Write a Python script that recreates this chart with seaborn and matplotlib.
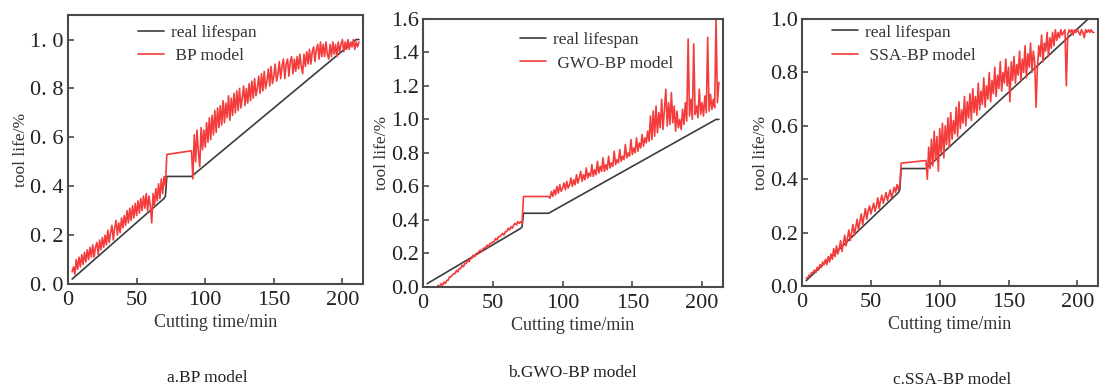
import numpy as np
import pandas as pd
import matplotlib
matplotlib.use("Agg")
import matplotlib.pyplot as plt
from matplotlib.ticker import FuncFormatter, MultipleLocator
import seaborn as sns

sns.set_theme(style="ticks")
plt.rcParams["font.family"] = ["Liberation Serif", "DejaVu Serif"]

# real lifespan (same measured curve, c ends a bit steeper)
real_x = [3, 70, 71, 72, 90, 210, 212]
real_y = [0.02, 0.35, 0.36, 0.44, 0.44, 1.00, 1.00]
real_x_c = [3, 70, 71, 72, 90, 212]
real_y_c = [0.02, 0.35, 0.36, 0.44, 0.44, 1.02]

# BP model prediction
bp_x = list(range(3, 72)) + [72, 90] + list(range(91, 213))
bp_y = [0.05, 0.07, 0.04, 0.10, 0.06, 0.11, 0.07, 0.12, 0.08, 0.13, 0.09, 0.14, 0.10, 0.15,
        0.11, 0.16, 0.11, 0.15, 0.17, 0.12, 0.18, 0.14, 0.19, 0.15, 0.20, 0.16, 0.22, 0.17,
        0.21, 0.24, 0.18, 0.23, 0.26, 0.20, 0.25, 0.21, 0.27, 0.23, 0.28, 0.24, 0.30, 0.25,
        0.31, 0.26, 0.32, 0.27, 0.33, 0.28, 0.34, 0.29, 0.35, 0.30, 0.36, 0.31, 0.37, 0.30,
        0.36, 0.32, 0.25, 0.37, 0.32, 0.39, 0.34, 0.41, 0.35, 0.43, 0.37, 0.44, 0.40,
        0.53, 0.545,
        0.43, 0.61, 0.50, 0.63, 0.54, 0.48, 0.64, 0.55, 0.63, 0.56, 0.66, 0.58, 0.68, 0.59,
        0.69, 0.61, 0.71, 0.62, 0.72, 0.64, 0.73, 0.65, 0.75, 0.66, 0.74, 0.68, 0.77, 0.67,
        0.76, 0.69, 0.78, 0.70, 0.79, 0.71, 0.80, 0.72, 0.76, 0.81, 0.73, 0.80, 0.74, 0.82,
        0.75, 0.83, 0.76, 0.84, 0.77, 0.80, 0.85, 0.78, 0.86, 0.79, 0.87, 0.80, 0.83, 0.88,
        0.81, 0.89, 0.82, 0.85, 0.90, 0.83, 0.86, 0.91, 0.84, 0.89, 0.92, 0.84, 0.90, 0.92,
        0.85, 0.91, 0.93, 0.86, 0.92, 0.87, 0.93, 0.88, 0.94, 0.89, 0.86, 0.94, 0.89, 0.95,
        0.90, 0.96, 0.90, 0.95, 0.97, 0.91, 0.96, 0.98, 0.92, 0.99, 0.93, 0.98, 0.93, 0.99,
        0.94, 0.92, 0.98, 0.93, 0.99, 0.94, 0.98, 0.93, 0.99, 0.95, 0.98, 1.00, 0.95, 0.99,
        0.96, 1.00, 0.96, 0.99, 0.97, 1.00, 0.96, 0.99, 0.97, 0.99]

# GWO-BP model prediction
gwo_x = list(range(10, 72)) + [72, 90] + list(range(91, 213))
gwo_y = [0.00, 0.01, 0.00, 0.02, 0.01, 0.03, 0.02, 0.04, 0.04, 0.06, 0.06, 0.07, 0.08, 0.08,
         0.10, 0.09, 0.11, 0.11, 0.13, 0.12, 0.14, 0.14, 0.16, 0.15, 0.17, 0.17, 0.19, 0.18,
         0.20, 0.20, 0.21, 0.22, 0.21, 0.23, 0.23, 0.24, 0.25, 0.24, 0.26, 0.26, 0.27, 0.27,
         0.29, 0.28, 0.30, 0.30, 0.31, 0.32, 0.31, 0.33, 0.33, 0.35, 0.34, 0.36, 0.35, 0.37,
         0.38, 0.37, 0.39, 0.38, 0.39, 0.38,
         0.54, 0.54,
         0.53, 0.57, 0.54, 0.58, 0.55, 0.60, 0.56, 0.61, 0.57, 0.59, 0.62, 0.58, 0.63, 0.59,
         0.61, 0.65, 0.60, 0.64, 0.61, 0.67, 0.62, 0.65, 0.69, 0.63, 0.67, 0.64, 0.71, 0.65,
         0.68, 0.66, 0.73, 0.66, 0.70, 0.67, 0.75, 0.68, 0.72, 0.69, 0.77, 0.69, 0.73, 0.70,
         0.78, 0.71, 0.74, 0.72, 0.81, 0.73, 0.76, 0.74, 0.82, 0.75, 0.78, 0.76, 0.85, 0.77,
         0.80, 0.78, 0.88, 0.79, 0.83, 0.80, 0.89, 0.81, 0.86, 0.83, 0.91, 0.84, 0.89, 0.86,
         0.93, 0.87, 1.02, 0.88, 1.05, 0.90, 1.08, 0.92, 1.04, 0.95, 1.12, 0.94, 1.06, 1.18,
         0.96, 1.10, 0.97, 1.16, 0.98, 1.08, 0.93, 1.05, 0.95, 1.00, 0.94, 1.06, 0.97, 1.10,
         0.99, 1.48, 1.02, 1.12, 1.00, 1.45, 1.03, 1.08, 1.01, 1.18, 1.03, 1.10, 1.02, 1.14,
         1.04, 1.49, 1.05, 1.15, 1.06, 1.12, 1.07, 1.60, 1.10, 1.22]

# SSA-BP model prediction
ssa_x = list(range(3, 72)) + [72, 90] + list(range(91, 213))
ssa_y = [0.03, 0.03, 0.04, 0.04, 0.05, 0.05, 0.06, 0.05, 0.07, 0.06, 0.08, 0.07, 0.09, 0.08,
         0.10, 0.08, 0.11, 0.09, 0.12, 0.10, 0.14, 0.11, 0.15, 0.12, 0.14, 0.17, 0.13, 0.16,
         0.19, 0.15, 0.18, 0.21, 0.17, 0.20, 0.23, 0.19, 0.22, 0.25, 0.21, 0.24, 0.27, 0.23,
         0.26, 0.29, 0.25, 0.28, 0.30, 0.27, 0.29, 0.31, 0.28, 0.30, 0.33, 0.29, 0.32, 0.34,
         0.31, 0.33, 0.35, 0.32, 0.34, 0.36, 0.33, 0.35, 0.37, 0.35, 0.38, 0.36, 0.38,
         0.46, 0.47,
         0.40, 0.52, 0.44, 0.55, 0.45, 0.58, 0.47, 0.56, 0.43, 0.59, 0.50, 0.61, 0.48, 0.60,
         0.53, 0.63, 0.52, 0.65, 0.55, 0.62, 0.57, 0.67, 0.56, 0.69, 0.59, 0.66, 0.61, 0.71,
         0.60, 0.69, 0.63, 0.72, 0.62, 0.74, 0.65, 0.71, 0.64, 0.76, 0.66, 0.73, 0.68, 0.78,
         0.67, 0.75, 0.70, 0.80, 0.69, 0.77, 0.72, 0.82, 0.71, 0.79, 0.74, 0.84, 0.73, 0.80,
         0.76, 0.85, 0.75, 0.82, 0.69, 0.84, 0.77, 0.86, 0.76, 0.83, 0.79, 0.88, 0.77, 0.85,
         0.80, 0.90, 0.78, 0.87, 0.82, 0.91, 0.80, 0.88, 0.84, 0.67, 0.82, 0.90, 0.86, 0.94,
         0.84, 0.91, 0.88, 0.95, 0.86, 0.93, 0.89, 0.95, 0.90, 0.96, 0.92, 0.95, 0.93, 0.96,
         0.94, 0.95, 0.96, 0.75, 0.94, 0.96, 0.95, 0.96, 0.94, 0.96, 0.95, 0.96, 0.95, 0.94,
         0.96, 0.95, 0.93, 0.96, 0.95, 0.96, 0.95, 0.96, 0.95, 0.95]

panels = [
    dict(rx=real_x, ry=real_y, mx=bp_x, my=bp_y, label=" BP model", ylim=(0, 1.1),
         spaced=True, title="a.BP model",
         rect=[0.0619, 0.2755, 0.2684, 0.686], leg=(0.237, 0.965), ty=378, tx=207),
    dict(rx=real_x, ry=real_y, mx=gwo_x, my=gwo_y, label=" GWO-BP model", ylim=(0, 1.6),
         spaced=False, title="b.GWO-BP model",
         rect=[0.3849, 0.2679, 0.273, 0.684], leg=(0.323, 0.95), ty=373, tx=572),
    dict(rx=real_x_c, ry=real_y_c, mx=ssa_x, my=ssa_y, label=" SSA-BP model", ylim=(0, 1.0),
         spaced=False, title="c.SSA-BP model",
         rect=[0.7298, 0.2704, 0.2693, 0.681], leg=(0.101, 0.98), ty=380, tx=952),
]

W, H = 1099, 392
fig = plt.figure(figsize=(W / 100, H / 100), dpi=100)
spine_col = "#4a4a4a"

for p in panels:
    ax = fig.add_axes(p["rect"])
    sns.lineplot(x=p["rx"], y=p["ry"], ax=ax, color="#3c3c3c", linewidth=1.2,
                 label="real lifespan", sort=False, estimator=None)
    sns.lineplot(x=p["mx"], y=p["my"], ax=ax, color="#f53c3c", linewidth=1.2,
                 label=p["label"], sort=False, estimator=None)
    ax.set_xlim(0, 215)
    ax.set_ylim(*p["ylim"])
    ax.xaxis.set_major_locator(MultipleLocator(50))
    ax.yaxis.set_major_locator(MultipleLocator(0.2))
    if p["spaced"]:
        ax.yaxis.set_major_formatter(FuncFormatter(lambda v, _: f"{v:.1f}".replace(".", ". ")))
    else:
        ax.yaxis.set_major_formatter(FuncFormatter(lambda v, _: f"{v:.1f}"))
    ax.tick_params(direction="in", length=4, width=1.2, color=spine_col,
                   labelsize=16, labelcolor="#222222")
    ax.tick_params(axis="x", pad=5)
    ax.tick_params(axis="y", pad=3)
    for s in ax.spines.values():
        s.set_color(spine_col)
        s.set_linewidth(1.5)
    ax.set_xlabel("Cutting time/min", fontsize=13, color="#333333", labelpad=3)
    ax.set_ylabel("tool life/%", fontsize=12.5, color="#333333", labelpad=1)
    ax.legend(loc="upper left", bbox_to_anchor=p["leg"], frameon=False, fontsize=12.5,
              handlelength=1.5, handletextpad=0.4, labelspacing=0.4,
              borderpad=0, borderaxespad=0, labelcolor="#333333")
    fig.text(p["tx"] / W, 1 - p["ty"] / H, p["title"], ha="center", va="center",
             fontsize=12.5, color="#222222")

fig.savefig("out.png", dpi=100)
